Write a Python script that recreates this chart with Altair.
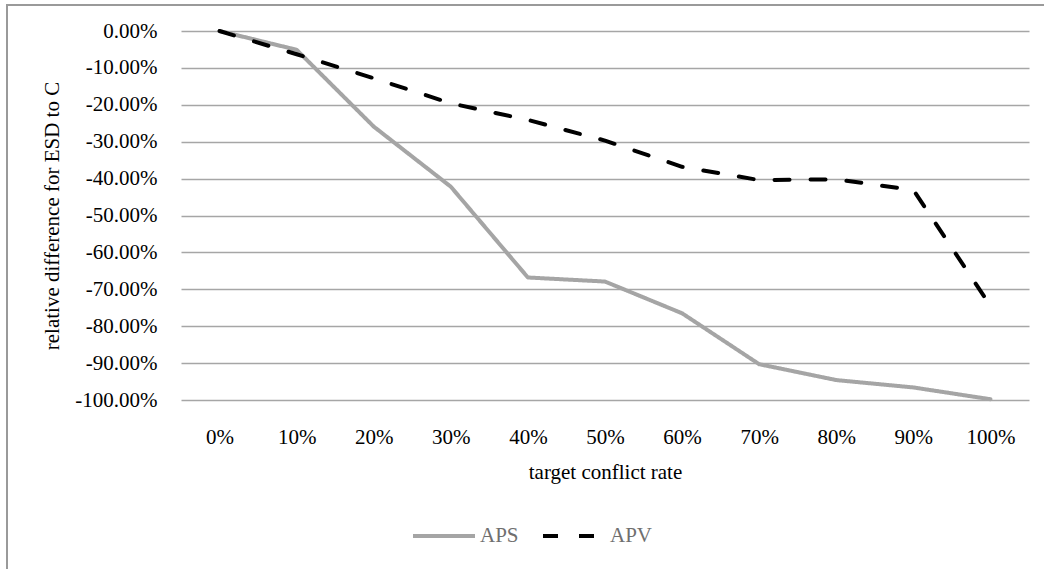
import altair as alt
import pandas as pd

# Target conflict rates on the category axis
rates = ["0%", "10%", "20%", "30%", "40%", "50%", "60%", "70%", "80%", "90%", "100%"]

# Relative difference for ESD to C, per strategy
aps = [0.0, -0.051, -0.259, -0.422, -0.668, -0.679, -0.765, -0.903, -0.946, -0.966, -0.998]
apv = [0.0, -0.063, -0.128, -0.196, -0.241, -0.297, -0.368, -0.404, -0.402, -0.431, -0.745]

series_names = ["APS", "APV"]
y_ticks = [round(-1 + 0.1 * i, 1) for i in range(11)]

rows = []
for name, vals in zip(series_names, [aps, apv]):
    for r, v in zip(rates, vals):
        rows.append({"rate": r, "series": name, "value": v})
df = pd.DataFrame(rows)

FONT = "Liberation Serif"
FS = 21

lines = alt.Chart(df).mark_line(strokeWidth=4, strokeCap="round", strokeJoin="round").encode(
    x=alt.X("rate:N", sort=rates, scale=alt.Scale(type="point", padding=0.5),
            axis=alt.Axis(title="target conflict rate", labelAngle=0, ticks=False, domain=False,
                          grid=False, labelPadding=26, titlePadding=14)),
    y=alt.Y("value:Q", scale=alt.Scale(domain=[-1, 0], nice=False, zero=False),
            axis=alt.Axis(title="relative difference for ESD to C", values=y_ticks,
                          labelExpr="replace(format(datum.value, '.2%'), '\u2212', '-')",
                          ticks=False, domain=False, grid=True, labelPadding=24, titlePadding=12)),
    color=alt.Color("series:N", scale=alt.Scale(domain=series_names, range=["#a5a5a5", "#000000"]),
                    legend=alt.Legend(title=None)),
    strokeDash=alt.StrokeDash("series:N", scale=alt.Scale(domain=series_names, range=[[1, 0], [15, 21]]),
                              legend=alt.Legend(title=None, symbolDash=[19, 18])),
)

# Chart-area frame
frame = alt.Chart(pd.DataFrame({"k": [0]})).mark_rect(
    fill=None, stroke="#9a9a9a", strokeWidth=2
).encode(
    x=alt.value(-174), x2=alt.value(900), y=alt.value(-26), y2=alt.value(600)
)

chart = alt.layer(frame, lines).properties(
    width=848, height=369,
    autosize=alt.AutoSizeParams(type="none"),
    padding={"left": 181, "top": 31, "right": 15, "bottom": 169},
    background="white",
).configure_view(stroke=None).configure_axis(
    labelFont=FONT, titleFont=FONT, labelFontSize=FS, titleFontSize=FS,
    labelColor="#000000", titleColor="#000000", titleFontWeight="normal",
    gridColor="#a6a6a6", gridWidth=1.5, gridOpacity=1,
).configure_legend(
    orient="none", legendX=230, legendY=472, direction="horizontal",
    labelFont=FONT, labelFontSize=FS, labelColor="#6f6f6f",
    symbolType="stroke", symbolSize=3844, symbolStrokeWidth=4,
    labelOffset=3, columnPadding=16,
)

chart.save("out.html", embed_options={"renderer": "svg", "actions": False})
